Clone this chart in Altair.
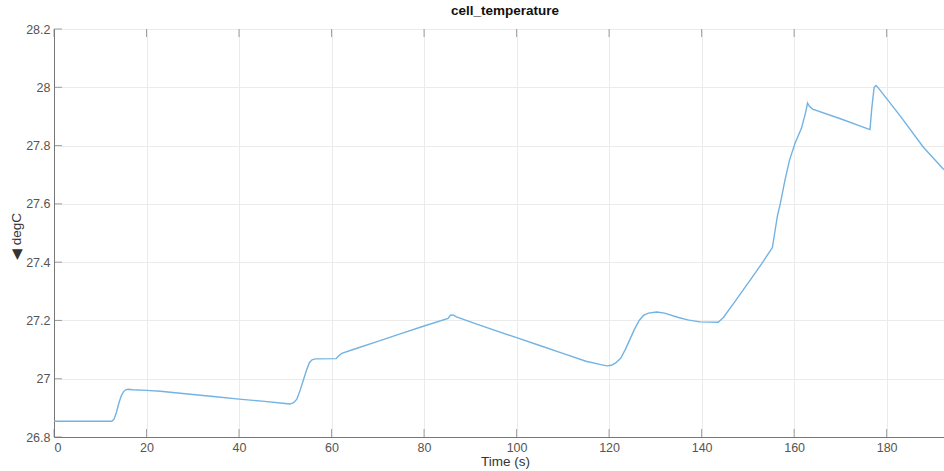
import altair as alt
import pandas as pd

# Cell temperature log (seconds, degC)
time_s = [
    0, 12.5, 13.0, 13.5, 14.0, 14.5, 15.0, 15.5, 16.0, 17, 20, 23, 30, 35, 40, 45,
    50, 51, 51.8, 52.5, 53.2, 54, 54.6, 55.2, 55.8, 56.5, 61, 61.5, 62.2, 65, 70,
    75, 80, 85.2, 85.7, 86.3, 87, 92, 100, 105, 110, 115, 118, 119.5, 120.5, 121.5,
    122.5, 123.5, 124.5, 125.5, 126.5, 127.5, 128.5, 130.3, 132, 135, 137, 139.6,
    143.6, 144.7, 147, 150.5, 153, 155.3, 155.8, 156.4, 157, 158, 159, 160.2, 161.6,
    162.5, 162.9, 163.3, 164, 170, 176.4, 176.8, 177.3, 177.7, 178.2, 183, 187.9, 192.4,
]
temp_c = [
    26.854, 26.854, 26.862, 26.885, 26.915, 26.940, 26.955, 26.962, 26.964, 26.962,
    26.960, 26.957, 26.946, 26.938, 26.930, 26.923, 26.915, 26.913, 26.918, 26.930,
    26.960, 27.000, 27.030, 27.055, 27.065, 27.068, 27.069, 27.078, 27.087, 27.102,
    27.128, 27.155, 27.181, 27.207, 27.218, 27.219, 27.212, 27.184, 27.141, 27.114,
    27.087, 27.060, 27.049, 27.044, 27.046, 27.055, 27.070, 27.100, 27.135, 27.170,
    27.200, 27.218, 27.225, 27.229, 27.225, 27.210, 27.202, 27.195, 27.194, 27.210,
    27.260, 27.338, 27.395, 27.450, 27.500, 27.560, 27.600, 27.680, 27.750, 27.808,
    27.860, 27.915, 27.946, 27.935, 27.925, 27.892, 27.855, 27.930, 28.000, 28.006,
    27.998, 27.900, 27.795, 27.717,
]

x_ticks = [0, 20, 40, 60, 80, 100, 120, 140, 160, 180]
y_ticks = [26.8, 27.0, 27.2, 27.4, 27.6, 27.8, 28.0, 28.2]

W, H = 890, 408
AXIS_COLOR = "#777777"
LABEL_COLOR = "#555555"
FONT = "Liberation Sans"

df = pd.DataFrame({"t": time_s, "temp": temp_c})
xt = pd.DataFrame({"t": x_ticks})
yt = pd.DataFrame({"v": y_ticks})

x_scale = alt.Scale(domain=[0, 192.4], nice=False, zero=False)
y_scale = alt.Scale(domain=[26.8, 28.2], nice=False, zero=False)

axis_style = dict(
    ticks=False,
    domainColor=AXIS_COLOR,
    gridColor="#ebebeb",
    gridWidth=1,
    labelFont=FONT,
    labelFontSize=12.5,
    labelColor=LABEL_COLOR,
    titleFont=FONT,
    titleFontSize=13.5,
    titleFontWeight="normal",
    titleColor="#333333",
)

line = alt.Chart(df).mark_line(color="#72b3e3", strokeWidth=1.4).encode(
    x=alt.X(
        "t:Q",
        scale=x_scale,
        title="Time (s)",
        axis=alt.Axis(values=x_ticks, format="d", labelPadding=4,
                      titleX=451, titleY=24, titleBaseline="middle", **axis_style),
    ),
    y=alt.Y(
        "temp:Q",
        scale=y_scale,
        title="◀ degC",
        axis=alt.Axis(values=y_ticks, format="~g", labelPadding=4,
                      titleX=-38, titleY=207, titleBaseline="middle", **axis_style),
    ),
)

# inward tick marks on bottom, top and left edges
tick_bottom = alt.Chart(xt).mark_tick(color=AXIS_COLOR, size=8, thickness=1).encode(
    x=alt.X("t:Q", scale=x_scale), y=alt.value(H - 4)
)
tick_top = alt.Chart(xt).mark_tick(color=AXIS_COLOR, size=8, thickness=1).encode(
    x=alt.X("t:Q", scale=x_scale), y=alt.value(4)
)
tick_left = alt.Chart(yt).mark_tick(color=AXIS_COLOR, size=8, thickness=1).encode(
    y=alt.Y("v:Q", scale=y_scale), x=alt.value(4)
)

chart = (
    alt.layer(line, tick_bottom, tick_top, tick_left)
    .properties(
        width=W,
        height=H,
        background="white",
        title=alt.TitleParams("cell_temperature", fontSize=13.5, fontWeight="bold",
                              font=FONT, color="#111111", offset=6, dx=6),
        autosize=alt.AutoSizeParams(type="none"),
        padding={"left": 54, "top": 29, "right": 0, "bottom": 34},
    )
    .configure_view(stroke=AXIS_COLOR, strokeWidth=1)
)

chart.save("out.html", embed_options={"renderer": "svg", "actions": False})
